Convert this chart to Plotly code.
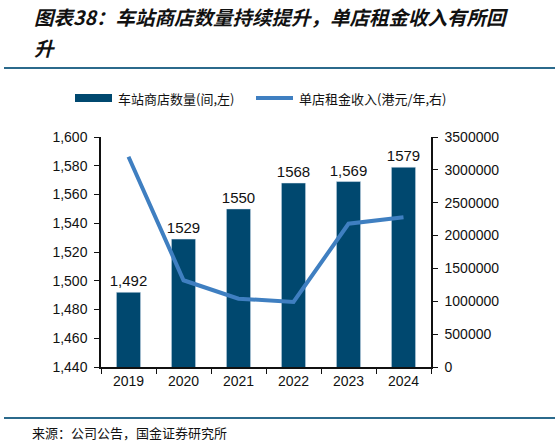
import plotly.graph_objects as go

years = ["2019", "2020", "2021", "2022", "2023", "2024"]
store_count = [1492, 1529, 1550, 1568, 1569, 1579]
store_labels = ["1,492", "1529", "1550", "1568", "1,569", "1579"]
rent_per_store = [3200000, 1320000, 1040000, 990000, 2180000, 2280000]

bar_name = "车站商店数量(间,左)"
line_name = "单店租金收入(港元/年,右)"
title_1 = "图表38：车站商店数量持续提升，单店租金收入有所回"
title_2 = "升"
source = "来源：公司公告，国金证券研究所"

BAR = "#00486f"
LINE = "#3f7fc1"
RULE = "#2b6a8c"
NUM_FONT = "Liberation Sans, Arial, sans-serif"
CJK_FONT = "Noto Sans CJK SC, sans-serif"

fig = go.Figure()
fig.add_trace(go.Bar(x=years, y=store_count, name=bar_name, marker_color=BAR,
                     width=0.44, text=store_labels, textposition="outside",
                     constraintext="none",
                     textfont=dict(size=15, color="#111", family=NUM_FONT),
                     cliponaxis=False, showlegend=False))
fig.add_trace(go.Scatter(x=years, y=rent_per_store, name=line_name, yaxis="y2",
                         mode="lines", line=dict(color=LINE, width=4),
                         showlegend=False))

axis_common = dict(showline=True, linecolor="#111", linewidth=1.5, ticks="outside",
                   ticklen=5, tickcolor="#111", showgrid=False, zeroline=False,
                   tickfont=dict(size=14, color="#111", family=NUM_FONT))

fig.update_layout(
    width=559, height=448,
    margin=dict(l=101, r=128, t=137, b=81),
    plot_bgcolor="white", paper_bgcolor="white",
    bargap=0.5,
    xaxis=dict(**axis_common, type="category", tickson="boundaries"),
    yaxis=dict(**axis_common, range=[1440, 1600], dtick=20, tickformat=",",
               ticklabelstandoff=4),
    yaxis2=dict(**axis_common, overlaying="y", side="right", range=[0, 3500000],
                dtick=500000, tickformat="d", ticklabelstandoff=4),
)

# title, rules and source
fig.add_annotation(text="<b><i>" + title_1 + "</i></b>", xref="paper", yref="paper",
                   x=(32 - 101) / 330, y=(367 - 17) / 230, xanchor="left",
                   yanchor="middle", showarrow=False,
                   font=dict(size=19.5, color="#111", family=CJK_FONT))
fig.add_annotation(text="<b><i>" + title_2 + "</i></b>", xref="paper", yref="paper",
                   x=(32 - 101) / 330, y=(367 - 47) / 230, xanchor="left",
                   yanchor="middle", showarrow=False,
                   font=dict(size=19.5, color="#111", family=CJK_FONT))
fig.add_shape(type="line", xref="paper", yref="paper",
              x0=(4 - 101) / 330, x1=(555 - 101) / 330,
              y0=(367 - 68) / 230, y1=(367 - 68) / 230,
              line=dict(color=RULE, width=2))
fig.add_shape(type="line", xref="paper", yref="paper",
              x0=(4 - 101) / 330, x1=(555 - 101) / 330,
              y0=(367 - 418) / 230, y1=(367 - 418) / 230,
              line=dict(color=RULE, width=2))
fig.add_annotation(text=source, xref="paper", yref="paper",
                   x=(30 - 101) / 330, y=(367 - 432) / 230, xanchor="left",
                   yanchor="middle", showarrow=False,
                   font=dict(size=13, color="#111", family=CJK_FONT))

# legend
ly = (367 - 98) / 230
fig.add_shape(type="rect", xref="paper", yref="paper",
              x0=(75 - 101) / 330, x1=(112 - 101) / 330,
              y0=ly - 4 / 230, y1=ly + 4 / 230,
              fillcolor=BAR, line=dict(width=0))
fig.add_annotation(text=bar_name, xref="paper", yref="paper",
                   x=(116 - 101) / 330, y=ly, xanchor="left", yanchor="middle",
                   showarrow=False, font=dict(size=13, color="#111", family=CJK_FONT))
fig.add_shape(type="line", xref="paper", yref="paper",
              x0=(256 - 101) / 330, x1=(293 - 101) / 330, y0=ly, y1=ly,
              line=dict(color=LINE, width=4))
fig.add_annotation(text=line_name, xref="paper", yref="paper",
                   x=(297 - 101) / 330, y=ly, xanchor="left", yanchor="middle",
                   showarrow=False, font=dict(size=13, color="#111", family=CJK_FONT))

fig.write_html("out.html", config={"displayModeBar": False},
               post_script="document.body.style.margin='0';")
